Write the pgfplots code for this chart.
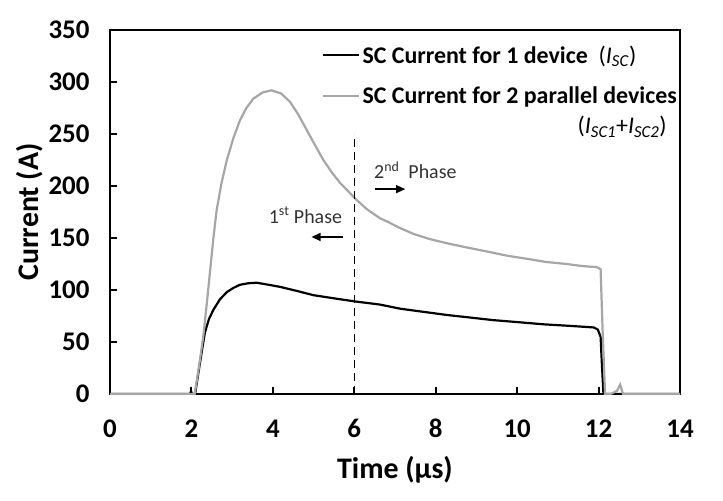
\documentclass[border=0pt]{standalone}
\usepackage{fontspec}
\setmainfont{Carlito}
\usepackage{pgfplots}
\pgfplotsset{compat=1.18}
\usetikzlibrary{arrows.meta}
\definecolor{twodev}{RGB}{166,166,166}
\definecolor{annot}{RGB}{50,50,50}

\begin{document}
\begin{tikzpicture}
\begin{axis}[
  scale only axis, width=570bp, height=364bp,
  xmin=0, xmax=14, ymin=0, ymax=350,
  xtick={0,2,...,14}, ytick={0,50,...,350},
  tick pos=left, tick align=inside,
  major tick length=7bp,
  axis line style={line width=2.4bp},
  every tick/.style={black, line width=2bp},
  tick label style={font=\fontsize{27}{31}\selectfont\bfseries},
  xticklabel style={anchor=base},
  /pgf/number format/assume math mode=true,
  xticklabel shift=43bp, yticklabel shift=17bp,
  xlabel={Time (µs)}, ylabel={Current (A)},
  label style={font=\fontsize{30}{34}\selectfont\bfseries},
  xlabel style={at={(axis description cs:0.5,-0.2308)}, anchor=base},
  ylabel style={at={(axis description cs:-0.1263,0.5)}, anchor=base},
  legend style={at={(axis cs:5.21,336)}, anchor=north west, draw=none, fill=none,
    font=\fontsize{24}{28}\selectfont\bfseries, row sep=20bp, inner sep=0pt,
    nodes={inner xsep=2bp, inner ysep=1bp}},
  legend cell align=left,
  legend image code/.code={\draw[#1] (0bp,0bp) -- (36bp,0bp);},
]
\addplot[black, line width=2.2bp] coordinates {
  (0,0)(1.97,0)(1.99,3)(2.01,0)(2.09,0)(2.15,15)(2.21,30)(2.33,59)(2.43,72)
  (2.54,81)(2.70,91)(2.87,98)(3.03,102)(3.19,105)(3.40,106.5)(3.60,107)
  (3.90,105)(4.18,103)(4.60,99)(5.00,95)(5.50,92)(6.02,89)(6.63,86)(7.13,82)
  (7.70,79)(8.27,76)(8.85,73.5)(9.42,71)(10.05,69)(10.65,67)(11.30,65.5)
  (11.88,64)(11.98,62)(12.05,55)(12.08,30)(12.12,0)(14,0)
};
\addlegendentry{SC Current for 1 device\ \ {\mdseries(\textit{I}\textsubscript{\textit{SC}})}}
\addplot[twodev, line width=2.2bp] coordinates {
  (0,0)(2.08,0)(2.18,25)(2.29,55)(2.38,88)(2.46,119)(2.54,150)(2.62,177)
  (2.74,203)(2.87,225)(3.03,246)(3.19,263)(3.35,275)(3.52,284)(3.75,290)
  (3.97,292)(4.20,289)(4.42,281)(4.62,269)(4.83,254)(5.04,239)(5.24,225)
  (5.45,213)(5.65,203)(5.85,195)(6.02,188)(6.30,178)(6.63,169)(6.80,166)
  (7.10,160)(7.45,154)(7.85,149)(8.27,145)(8.75,141)(9.26,137)(9.75,133)
  (10.24,130)(10.70,127)(11.22,125)(11.60,123)(11.96,122)(12.05,120)
  (12.10,60)(12.16,0)(12.30,0)(12.45,3)(12.53,9)(12.60,0)(14,0)
};
\addlegendentry{SC Current for 2 parallel devices}
\addplot[black, line width=1.2bp, dash pattern=on 8bp off 5bp, forget plot]
  coordinates {(6,0)(6,250)};
\node[anchor=east, font=\fontsize{24}{28}\selectfont] at (axis cs:13.76,257)
  {(\textit{I}\textsubscript{\textit{SC1}}+\textit{I}\textsubscript{\textit{SC2}})};
\node[annot, font=\fontsize{20}{24}\selectfont] at (axis cs:7.5,215) {2\textsuperscript{nd}\ \ Phase};
\node[annot, font=\fontsize{20}{24}\selectfont] at (axis cs:4.8,172) {1\textsuperscript{st} Phase};
\draw[black, line width=1.3bp, -{Triangle[length=9bp,width=8bp]}] (axis cs:6.5,197) -- (axis cs:7.25,197);
\draw[black, line width=1.3bp, -{Triangle[length=9bp,width=8bp]}] (axis cs:5.72,151) -- (axis cs:4.95,151);
\end{axis}
\pgfresetboundingbox
\path ([shift={(-110bp,-107bp)}]current axis.south west) rectangle ([shift={(43bp,30bp)}]current axis.north east);
\end{tikzpicture}
\end{document}
